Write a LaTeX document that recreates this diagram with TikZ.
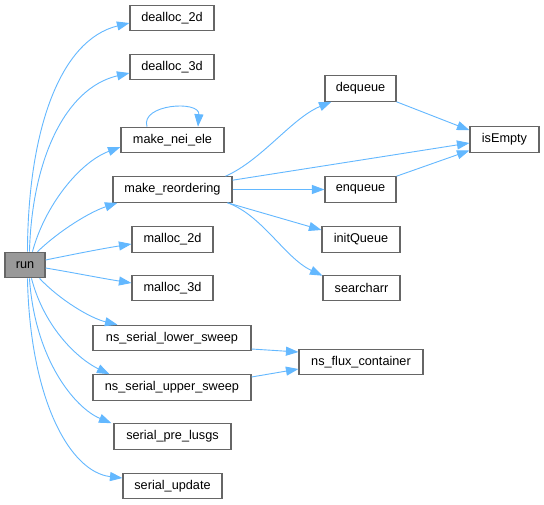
\documentclass[tikz,border=0pt]{standalone}
\usepackage{fontspec}
\setmainfont{Liberation Sans}
\usetikzlibrary{arrows.meta,calc}
\definecolor{edgec}{HTML}{63B8FF}
\definecolor{boxc}{HTML}{666666}
\definecolor{runc}{HTML}{999999}
\begin{document}
\begin{tikzpicture}[x=1pt,y=-1pt,
 fn/.style={draw=boxc, fill=white, line width=1.1pt, minimum height=25.5pt, inner sep=0pt, font=\fontsize{12.7}{15}\selectfont},
 edge/.style={draw=edgec, line width=0.9pt, -{Triangle[length=12.5pt,width=9pt]}},
]
\useasboundingbox[fill=white] (0,0) rectangle (544,504);

\node[fn, fill=runc, minimum width=40pt] (run) at (25,265) {run};
\node[fn, minimum width=84pt] (d2) at (172,18) {dealloc\_2d};
\node[fn, minimum width=84pt] (d3) at (172,67) {dealloc\_3d};
\node[fn, minimum width=103pt] (mne) at (172.5,140) {make\_nei\_ele};
\node[fn, minimum width=119pt] (mr) at (172.5,189.5) {make\_reordering};
\node[fn, minimum width=81pt] (m2) at (172.5,239.5) {malloc\_2d};
\node[fn, minimum width=81pt] (m3) at (172.5,288) {malloc\_3d};
\node[fn, minimum width=158pt] (lo) at (172,338) {ns\_serial\_lower\_sweep};
\node[fn, minimum width=158pt] (up) at (172,387.5) {ns\_serial\_upper\_sweep};
\node[fn, minimum width=117pt] (pre) at (172.5,436.5) {serial\_pre\_lusgs};
\node[fn, minimum width=99pt] (upd) at (172.5,486) {serial\_update};
\node[fn, minimum width=71pt] (deq) at (360.5,88.5) {dequeue};
\node[fn, minimum width=69pt] (ise) at (504.5,139.5) {isEmpty};
\node[fn, minimum width=71pt] (enq) at (360.5,189.5) {enqueue};
\node[fn, minimum width=78pt] (ini) at (361,239.5) {initQueue};
\node[fn, minimum width=77pt] (sea) at (361.5,288) {searcharr};
\node[fn, minimum width=124pt] (flux) at (361,362) {ns\_flux\_container};

% run edges
\draw[edge] ($(run.north west)+(23,0)$) .. controls (28,130) and (60,40) .. ($(d2.west)+(0,5)$);
\draw[edge] ($(run.north west)+(25,0)$) .. controls (32,160) and (65,88) .. ($(d3.west)+(0,6)$);
\draw[edge] ($(run.north west)+(28,0)$) .. controls (45,205) and (80,162) .. ($(mne.west)+(0,7)$);
\draw[edge] ($(run.north west)+(33,0)$) .. controls (60,230) and (90,212) .. ($(mr.south west)+(5,0)$);
\draw[edge] ($(run.east)+(0,-5)$) .. controls (70,255) and (100,249) .. ($(m2.west)+(0,4.5)$);
\draw[edge] ($(run.east)+(0,3)$) .. controls (70,272) and (100,278) .. ($(m3.west)+(0,-5)$);
\draw[edge] ($(run.south west)+(35,0)$) .. controls (60,300) and (90,318) .. ($(lo.north west)+(25,0)$);
\draw[edge] ($(run.south west)+(27,0)$) .. controls (45,330) and (80,360) .. ($(up.north west)+(17,0)$);
\draw[edge] ($(run.south west)+(25,0)$) .. controls (35,360) and (75,408) .. ($(pre.north west)+(-2,0)$);
\draw[edge] ($(run.south west)+(23,0)$) .. controls (30,400) and (70,472) .. ($(upd.west)+(0,-8)$);

% self loop
\draw[edge] ($(mne.north)+(-25.5,0)$) .. controls (140,104) and (200,100) .. ($(mne.north)+(25.5,0)$);

% make_reordering edges
\draw[edge] ($(mr.north east)+(-7,0)$) .. controls (262,160) and (292,118) .. ($(deq.south west)+(7,0)$);
\draw[edge] ($(mr.north east)+(0,4)$) -- ($(ise.west)+(0,3.5)$);
\draw[edge] (mr.east) -- (enq.west);
\draw[edge] ($(mr.south east)+(-5,0)$) -- ($(ini.west)+(0,-9.5)$);
\draw[edge] ($(mr.south east)+(-5,0)$) .. controls (262,215) and (285,258) .. ($(sea.north west)+(0,1)$);

% queue to isEmpty
\draw[edge] (deq.south east) -- ($(ise.north west)+(0,4)$);
\draw[edge] (enq.north east) -- ($(ise.west)+(0,11)$);

% sweeps to flux
\draw[edge] ($(lo.east)+(0,11)$) -- ($(flux.west)+(0,-10)$);
\draw[edge] ($(up.east)+(0,-10.5)$) -- ($(flux.west)+(0,7)$);
\end{tikzpicture}
\end{document}
